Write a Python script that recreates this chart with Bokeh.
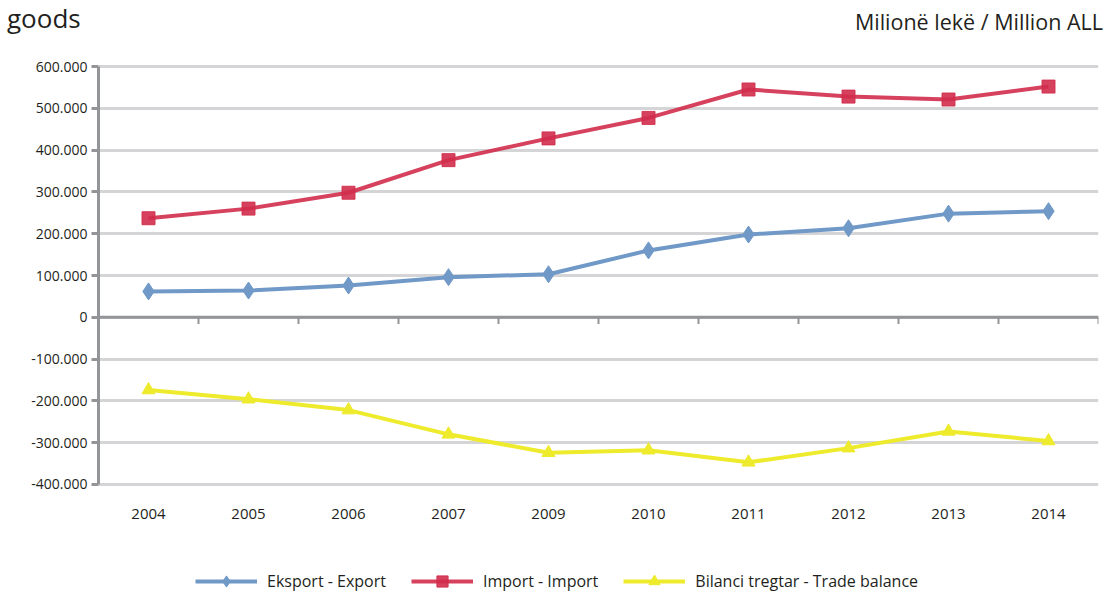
from bokeh.plotting import figure
from bokeh.layouts import column
from bokeh.models import FixedTicker, Span, Legend, LegendItem, Range1d, Div
from bokeh.embed import file_html
from bokeh.resources import INLINE

# ---- data ----
years = ["2004", "2005", "2006", "2007", "2009", "2010", "2011", "2012", "2013", "2014"]
export_vals = [62000, 64000, 76000, 96000, 103000, 160000, 198000, 213000, 248000, 254000]
import_vals = [237000, 260000, 298000, 376000, 428000, 477000, 545000, 528000, 521000, 552000]
balance_vals = [-174000, -196000, -222000, -280000, -324000, -318000, -347000, -313000, -273000, -296000]
y_ticks = [-400000, -300000, -200000, -100000, 0, 100000, 200000, 300000, 400000, 500000, 600000]
y_tick_labels = ["-400.000", "-300.000", "-200.000", "-100.000", "0", "100.000", "200.000",
                 "300.000", "400.000", "500.000", "600.000"]
series_names = ["Eksport - Export", "Import - Import", "Bilanci tregtar - Trade balance"]
title_text = "goods"
unit_text = "Milionë lekë / Million ALL"

# ---- styles ----
FONT = "Open Sans"
TXT = "#231F20"
AXIS = "#939598"
GRID = "#D5D5D7"
C_EXP = "#7099C8"
C_IMP = "#D12E4C"
C_BAL = "#EEEA2C"
W = 1107
HEAD_H = 54

# ---- header with the texts ----
head_html = (
    f'<div style="position:relative;width:{W}px;height:{HEAD_H}px;'
    f'font-family:\'{FONT}\';color:{TXT};">'
    f'<span style="position:absolute;left:7px;top:0px;font-size:26px;line-height:normal;'
    f'white-space:nowrap;">{title_text}</span>'
    f'<span style="position:absolute;right:4px;top:11px;font-size:21.5px;line-height:21.5px;'
    f'white-space:nowrap;">{unit_text}</span>'
    '</div>'
)
head = Div(text=head_html, width=W, height=HEAD_H, styles={"margin": "0", "padding": "0"})

# ---- main chart ----
x = list(range(len(years)))

p = figure(frame_width=1000, frame_height=422,
           x_range=Range1d(-0.5, len(years) - 0.5),
           y_range=Range1d(-404800, 604800),
           output_backend="svg", toolbar_location=None,
           min_border_left=98, min_border_right=9, min_border_top=10, min_border_bottom=60)
p.outline_line_color = None
p.background_fill_color = "white"
p.border_fill_color = "white"

# x axis (labels only, at bottom)
p.xaxis.ticker = FixedTicker(ticks=x)
p.xaxis.major_label_overrides = {i: y for i, y in zip(x, years)}
p.xaxis.axis_line_color = None
p.xaxis.major_tick_line_color = None
p.xaxis.minor_tick_line_color = None
p.xaxis.major_tick_out = 0
p.xaxis.major_tick_in = 0
p.xaxis.major_label_standoff = 22
p.xaxis.major_label_text_font = FONT
p.xaxis.major_label_text_font_size = "15px"
p.xaxis.major_label_text_color = TXT
p.xgrid.visible = False

# y axis
yt = FixedTicker(ticks=y_ticks)
p.yaxis.ticker = yt
p.yaxis.major_label_overrides = {v: s for v, s in zip(y_ticks, y_tick_labels)}
p.yaxis.bounds = (y_ticks[0], y_ticks[-1])
p.yaxis.axis_line_color = AXIS
p.yaxis.axis_line_width = 3
p.yaxis.major_tick_line_color = AXIS
p.yaxis.major_tick_line_width = 3
p.yaxis.major_tick_out = 7
p.yaxis.major_tick_in = 0
p.yaxis.minor_tick_line_color = None
p.yaxis.major_label_standoff = 4
p.yaxis.major_label_text_font = FONT
p.yaxis.major_label_text_font_size = "14px"
p.yaxis.major_label_text_color = TXT
p.ygrid.ticker = yt
p.ygrid.grid_line_color = GRID
p.ygrid.grid_line_width = 3

# zero line with category-boundary ticks
p.add_layout(Span(location=0, dimension="width", line_color=AXIS, line_width=3))
bounds_x = [i + 0.5 for i in x]
p.segment(x0=bounds_x, y0=[0] * len(bounds_x), x1=bounds_x, y1=[-16000] * len(bounds_x),
          line_color=AXIS, line_width=2)

# series
series = [export_vals, import_vals, balance_vals]
styles = [
    dict(color=C_EXP, marker="diamond", size=17, alpha=1.0),
    dict(color=C_IMP, marker="square", size=13, alpha=0.9),
    dict(color=C_BAL, marker="triangle", size=13, alpha=1.0),
]
for vals, st in zip(series, styles):
    p.line(x, vals, line_color=st["color"], line_width=4, line_alpha=st["alpha"])
    p.scatter(x, vals, marker=st["marker"], size=st["size"], color=st["color"], alpha=st["alpha"])

# ---- footer holding the legend (same series, drawn outside its tiny visible range) ----
foot = figure(frame_width=1000, height=46, x_range=Range1d(0, 1), y_range=Range1d(0, 1),
              x_axis_type=None, y_axis_type=None, output_backend="svg", toolbar_location=None,
              min_border_left=98, min_border_right=9, min_border_top=0, min_border_bottom=0)
foot.outline_line_color = None
foot.grid.visible = False
items = []
for name, vals, st in zip(series_names, series, styles):
    lr = foot.line(x, vals, line_color=st["color"], line_width=4, line_alpha=st["alpha"])
    sr = foot.scatter(x, vals, marker=st["marker"], size=st["size"], color=st["color"],
                      alpha=st["alpha"])
    items.append(LegendItem(label=name, renderers=[lr, sr]))
legend = Legend(items=items, orientation="horizontal", location=(97, -3),
                glyph_width=62, glyph_height=28, label_height=16, label_standoff=10,
                spacing=25, padding=0, margin=0,
                border_line_color=None, background_fill_alpha=0,
                label_text_font=FONT, label_text_font_size="16px", label_text_color=TXT)
foot.add_layout(legend, "center")

layout = column(head, p, foot, spacing=0)
open("out.html", "w").write(file_html(layout, INLINE))
